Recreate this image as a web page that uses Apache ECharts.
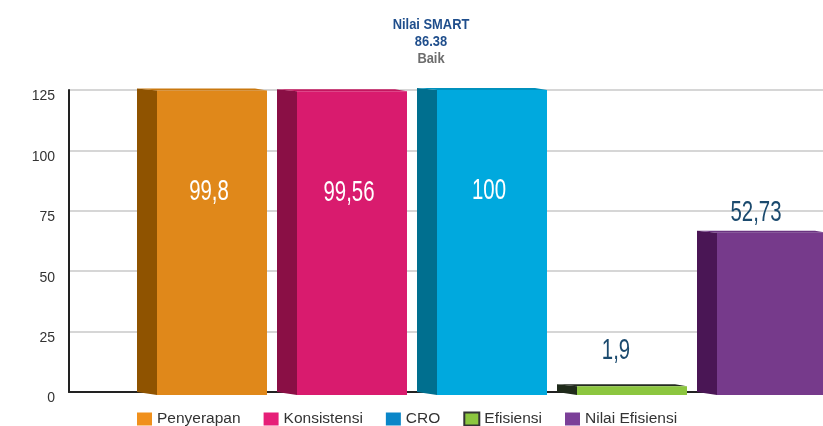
<!DOCTYPE html>
<html>
<head>
<meta charset="utf-8">
<script src="https://cdn.jsdelivr.net/npm/echarts@6/dist/echarts.min.js"></script>
<style>
  html, body { margin: 0; padding: 0; background: #fff; overflow: hidden; }
  #main { width: 832px; height: 426px; }
</style>
</head>
<body>
<div id="main"></div>
<script>
// data
const titleName = 'Nilai SMART';
const titleScore = '86.38';
const titleGrade = 'Baik';

const categories = ['Penyerapan', 'Konsistensi', 'CRO', 'Efisiensi', 'Nilai Efisiensi'];
const values = [99.8, 99.56, 100, 1.9, 52.73];
// the printed axis is 0..125 while bars are drawn on 0..100
const yTickLabels = ['0', '25', '50', '75', '100', '125'];

// colours
const legendColors = ['#f0901c', '#e61f78', '#0a86c8', '#8cc63f', '#7b3f98'];
const frontColors = ['#e0881a', '#d91b6e', '#00a9de', '#8cc63f', '#763a8b'];
const sideColors = ['#8f5300', '#8a0f45', '#006f8f', '#1f2a1a', '#4a1655'];
const topColors = ['#c9780f', '#c4165f', '#0091bd', '#232a20', '#6a3380'];

const font = '"Liberation Sans", Arial, sans-serif';

// the plot runs a few px past the right edge of the 823px window, like the original
const chart = echarts.init(document.getElementById('main'));

function fmt(v) {
  return String(v).replace('.', ',');
}

function renderBar(params, api) {
  const idx = api.value(0);
  const v = api.value(1);
  const base = api.coord([idx, 0]);
  const top = api.coord([idx, v]);
  const cx = base[0];
  const fl = cx - 45, fr = cx + 65, sl = cx - 65;
  const s = params.seriesIndex;
  const children = [
    { // side face (left)
      type: 'polygon',
      shape: { points: [[sl, top[1] - 2], [fl, top[1]], [fl, base[1] + 3], [sl, base[1]]] },
      style: { fill: sideColors[s] }
    },
    { // top face
      type: 'polygon',
      shape: { points: [[sl, top[1] - 2], [fr - 12, top[1] - 2], [fr, top[1]], [fl, top[1]]] },
      style: { fill: topColors[s] }
    },
    { // front face
      type: 'rect',
      shape: { x: fl, y: top[1], width: fr - fl, height: base[1] + 3 - top[1] },
      style: { fill: frontColors[s] }
    }
  ];
  // value label: inside the tall bars, above the short ones
  let tx, ty, color;
  if (v > 90) { tx = (fl + fr) / 2 - 3; ty = top[1] + 101; color = '#ffffff'; }
  else if (v > 10) { tx = cx - 6; ty = top[1] - 20; color = '#1b4a6e'; }
  else { tx = cx - 6; ty = top[1] - 36; color = '#1b4a6e'; }
  children.push({
    type: 'text',
    x: tx,
    y: ty,
    scaleX: 0.68,
    style: {
      text: fmt(v), x: 0, y: 0,
      align: 'center', verticalAlign: 'middle',
      fill: color, fontSize: 30,
      fontFamily: font
    }
  });
  return { type: 'group', children: children };
}

const series = categories.map(function (name, i) {
  return {
    name: name,
    type: 'custom',
    xAxisIndex: 1,
    yAxisIndex: 1,
    renderItem: renderBar,
    itemStyle: i === 3
      ? { color: legendColors[i], borderColor: '#333', borderWidth: 1 }
      : { color: legendColors[i] },
    data: [[i, values[i]]],
    z: 3
  };
});

function titleLine(text, y, color) {
  return {
    type: 'text',
    x: 431,
    y: y,
    scaleX: 0.86,
    style: {
      text: text, x: 0, y: 0,
      align: 'center', verticalAlign: 'middle',
      fill: color, fontSize: 15, fontWeight: 'bold',
      fontFamily: font
    }
  };
}

const option = {
  backgroundColor: '#ffffff',
  animation: false,
  graphic: [
    titleLine(titleName, 25, '#1f4e8c'),
    titleLine(titleScore, 42, '#1f4e8c'),
    titleLine(titleGrade, 59, '#6d6d6d')
  ],
  legend: {
    left: 137,
    top: 411,
    padding: 0,
    icon: 'rect',
    itemWidth: 15,
    itemHeight: 13,
    itemGap: 23,
    textStyle: { fontSize: 15.5, color: '#333', fontFamily: font },
    data: categories
  },
  grid: [
    { left: 69, right: 9, top: 90, bottom: 34 },
    { left: 132, right: 0, top: 90, bottom: 34 }
  ],
  xAxis: [
    {
      type: 'category', gridIndex: 0, data: [''],
      axisLine: { lineStyle: { color: '#222', width: 2 } },
      axisTick: { show: false }, axisLabel: { show: false }
    },
    {
      type: 'category', gridIndex: 1, data: categories,
      axisLine: { show: false }, axisTick: { show: false }, axisLabel: { show: false }
    }
  ],
  yAxis: [
    {
      type: 'value', gridIndex: 0, min: 0, max: 100, interval: 20,
      axisLine: { show: true, lineStyle: { color: '#222', width: 2 } },
      axisTick: { show: false },
      axisLabel: {
        margin: 14, fontSize: 14, color: '#333',
        verticalAlign: 'top', lineHeight: 13,
        fontFamily: font,
        formatter: function (v) { return yTickLabels[Math.round(v / 20)]; }
      },
      splitLine: { lineStyle: { color: '#c8c8c8', width: 1.5 } }
    },
    {
      type: 'value', gridIndex: 1, min: 0, max: 100, interval: 20,
      show: false
    }
  ],
  series: series
};

chart.setOption(option);
</script>
</body>
</html>
